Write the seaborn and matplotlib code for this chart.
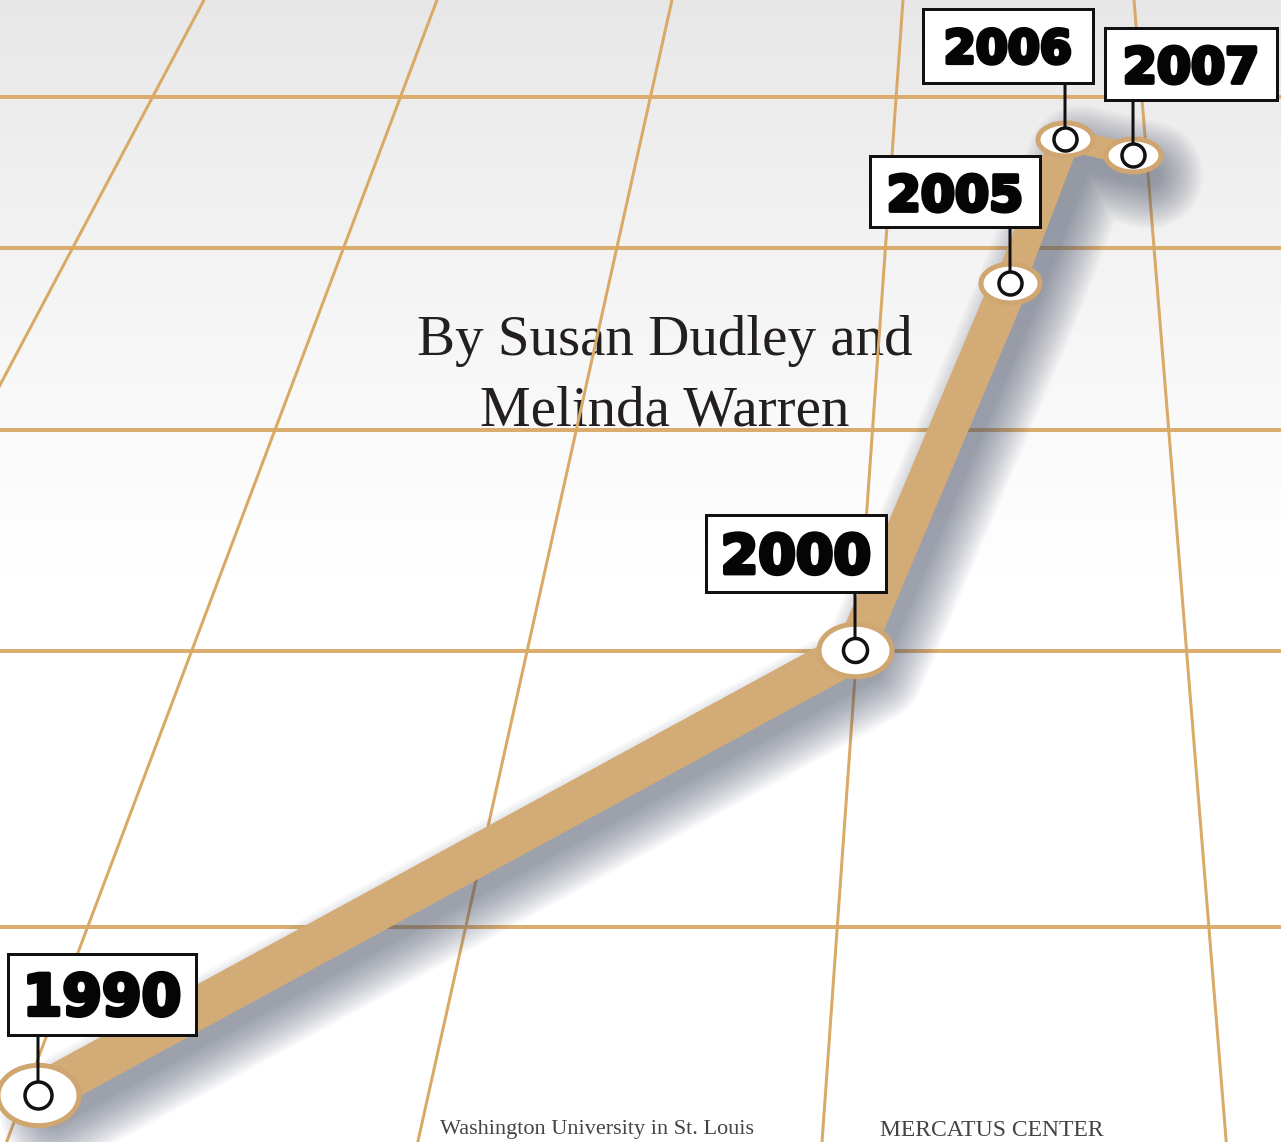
import numpy as np
import matplotlib
matplotlib.use("Agg")
import matplotlib.pyplot as plt
import matplotlib.patheffects as pe
import seaborn as sns
from matplotlib.path import Path
from matplotlib.transforms import offset_copy

# ---------------- data ----------------
years = [1990, 2000, 2005, 2006, 2007]
values = [4.7, 49.2, 85.9, 100.3, 98.7]          # pictorial height of the line
year_labels = ["1990", "2000", "2005", "2006", "2007"]
byline = ["By Susan Dudley and", "Melinda Warren"]
footer = ["Washington University in St. Louis", "MERCATUS CENTER"]
grid_levels = [104.5, 89.4, 71.2, 49.1, 21.5]     # receding floor lines

# ---------------- layout / style ----------------
W, H, DPI = 1281, 1142, 100
PT = 72.0 / DPI                                    # points per pixel
BAND = "#d3ab76"
GRID = "#d9a966"
INK = "#111111"

# perspective spacing of the year axis
SCALE_YEARS = [1989.535, 1990, 2000, 2005, 2006, 2007, 2009.18]
SCALE_POS = [0, 38, 855, 1010, 1065, 1133, 1281]

seg_width_px = [42, 38, 30, 22]
ell_w_px = [86, 78, 64, 60, 60]
ell_h_px = [64, 56, 42, 36, 36]
dot_px = [31, 28, 27, 27, 27]
stem_px = [60, 58, 55, 56, 55]
lab_dx = [64, -59, -55, -57, 58]
lab_dy = [101, 97, 91, 93, 91]
box_w = [188, 180, 170, 170, 172]
box_h = [81, 77, 71, 74, 72]
font_px = [57, 54, 49, 46, 49]


def _pw(x, xs, ys):
    x = np.asarray(x, dtype=float)
    out = np.interp(x, xs, ys)
    out = np.where(x < xs[0], ys[0] + (x - xs[0]) * (ys[1] - ys[0]) / (xs[1] - xs[0]), out)
    out = np.where(x > xs[-1], ys[-1] + (x - xs[-1]) * (ys[-1] - ys[-2]) / (xs[-1] - xs[-2]), out)
    return out


def fwd(x):
    return _pw(x, SCALE_YEARS, SCALE_POS)


def inv(p):
    return _pw(p, SCALE_POS, SCALE_YEARS)


class FixedBox:
    def __init__(self, w, h, shift=0.0):
        self.w, self.h, self.shift = w, h, shift

    def __call__(self, x0, y0, width, height, mutation_size):
        cx = x0 + width / 2.0
        cy = y0 + height / 2.0 + self.shift * mutation_size
        l, r = cx - self.w / 2.0, cx + self.w / 2.0
        b, t = cy - self.h / 2.0, cy + self.h / 2.0
        return Path([(l, b), (r, b), (r, t), (l, t), (l, b)], closed=True)


def ellipse_marker(aspect):
    t = np.linspace(0, 2 * np.pi, 120)
    return Path(np.c_[np.cos(t), aspect * np.sin(t)], closed=True)


sns.set_theme(style="white")
plt.rcParams["font.family"] = ["DejaVu Sans"]

fig = plt.figure(figsize=(W / DPI, H / DPI), dpi=DPI)

# background gradient (light grey at the top, white below)
bg = fig.add_axes([0, 0, 1, 1], zorder=-1)
t = np.linspace(0, 1, 400)[:, None]
f = np.clip(t / 0.5, 0, 1) ** 0.85
top = np.array([0.91, 0.905, 0.905])
img = top + (1 - top) * f[..., None]
img = np.repeat(img, 2, axis=1)
bg.imshow(img, extent=[0, 1, 0, 1], aspect="auto", origin="upper")
bg.set_xlim(0, 1)
bg.set_ylim(0, 1)
bg.axis("off")

ax = fig.add_axes([0, 0, 1, 1])
ax.set_facecolor("none")
ax.set_xscale("function", functions=(fwd, inv))

# floor grid: receding horizontal lines
for lv in grid_levels:
    ax.axhline(lv, color=GRID, lw=4 * PT, zorder=3, alpha=0.95)

# floor grid: lines converging to a vanishing point above the picture
VP = (1011 / W, 1 + 1523 / H)
for xt_px in [204, 437, 672, 903, 1134]:
    xt = xt_px / W
    k = VP[1] / (VP[1] - 1)
    xb = VP[0] + (xt - VP[0]) * k
    ax.plot([xt, xb], [1, 0], transform=ax.transAxes, color=GRID, lw=3 * PT, zorder=3)

# byline
ax.text(665 / W, (H - 355) / H, byline[0], transform=ax.transAxes, ha="center", va="baseline",
        fontsize=41, family="Liberation Serif", color="#231f20", zorder=2)
ax.text(665 / W, (H - 425) / H, byline[1], transform=ax.transAxes, ha="center", va="baseline",
        fontsize=41, family="Liberation Serif", color="#231f20", zorder=2)

# footer along the bottom edge
ax.text(440 / W, (H - 1134) / H, footer[0], transform=ax.transAxes, ha="left", va="baseline",
        fontsize=16, family="Liberation Serif", color="#444444", zorder=2)
ax.text(880 / W, (H - 1136) / H, footer[1], transform=ax.transAxes, ha="left", va="baseline",
        fontsize=17, family="Liberation Serif", color="#444444", zorder=2)

# soft drop shadow of the band
shadow_tr = offset_copy(ax.transData, fig=fig, x=16, y=-20, units="dots")
for k in range(18):
    ax.plot(years, values, color="#4a5369", lw=(22 + 5 * k) * PT, alpha=0.04,
            transform=shadow_tr, solid_joinstyle="round", solid_capstyle="round", zorder=4)

# the band
for i in range(len(years) - 1):
    sns.lineplot(x=years[i:i + 2], y=values[i:i + 2], ax=ax, color=BAND,
                 lw=seg_width_px[i] * PT, solid_capstyle="round", zorder=5, legend=False)

# white discs at each year
for x, y, w, h in zip(years, values, ell_w_px, ell_h_px):
    ax.plot([x], [y], marker=ellipse_marker(h / w), ms=(w - 5) * PT, mfc="white",
            mec="#cfa570", mew=5 * PT, ls="none", zorder=6)

# stems, pins and labels
heavy = [pe.withStroke(linewidth=4 * PT, foreground="#050505")]
for x, y, lab, st, d, dx, dy, bw, bh, fp in zip(years, values, year_labels, stem_px, dot_px,
                                               lab_dx, lab_dy, box_w, box_h, font_px):
    ax.annotate("", xy=(x, y), xytext=(0, st), textcoords="offset pixels",
                arrowprops=dict(arrowstyle="-", color=INK, lw=3 * PT, shrinkA=0, shrinkB=0),
                zorder=7)
    ax.plot([x], [y], marker="o", ms=(d - 4) * PT, mfc="white", mec=INK, mew=3.5 * PT,
            ls="none", zorder=8)
    txt = ax.annotate(lab, xy=(x, y), xytext=(dx, dy - 0.10 * fp), textcoords="offset pixels",
                      ha="center", va="center", fontsize=fp * PT, family="DejaVu Sans",
                      fontweight="bold", color="#050505", zorder=9,
                      bbox=dict(boxstyle=FixedBox(bw, bh, 0.10), fc="white", ec=INK, lw=3 * PT))
    txt.set_path_effects(heavy)

ax.set_xlim(SCALE_YEARS[0], SCALE_YEARS[-1])
ax.set_ylim(0, H / 10.0)
ax.axis("off")

fig.savefig("out.png", dpi=DPI)
